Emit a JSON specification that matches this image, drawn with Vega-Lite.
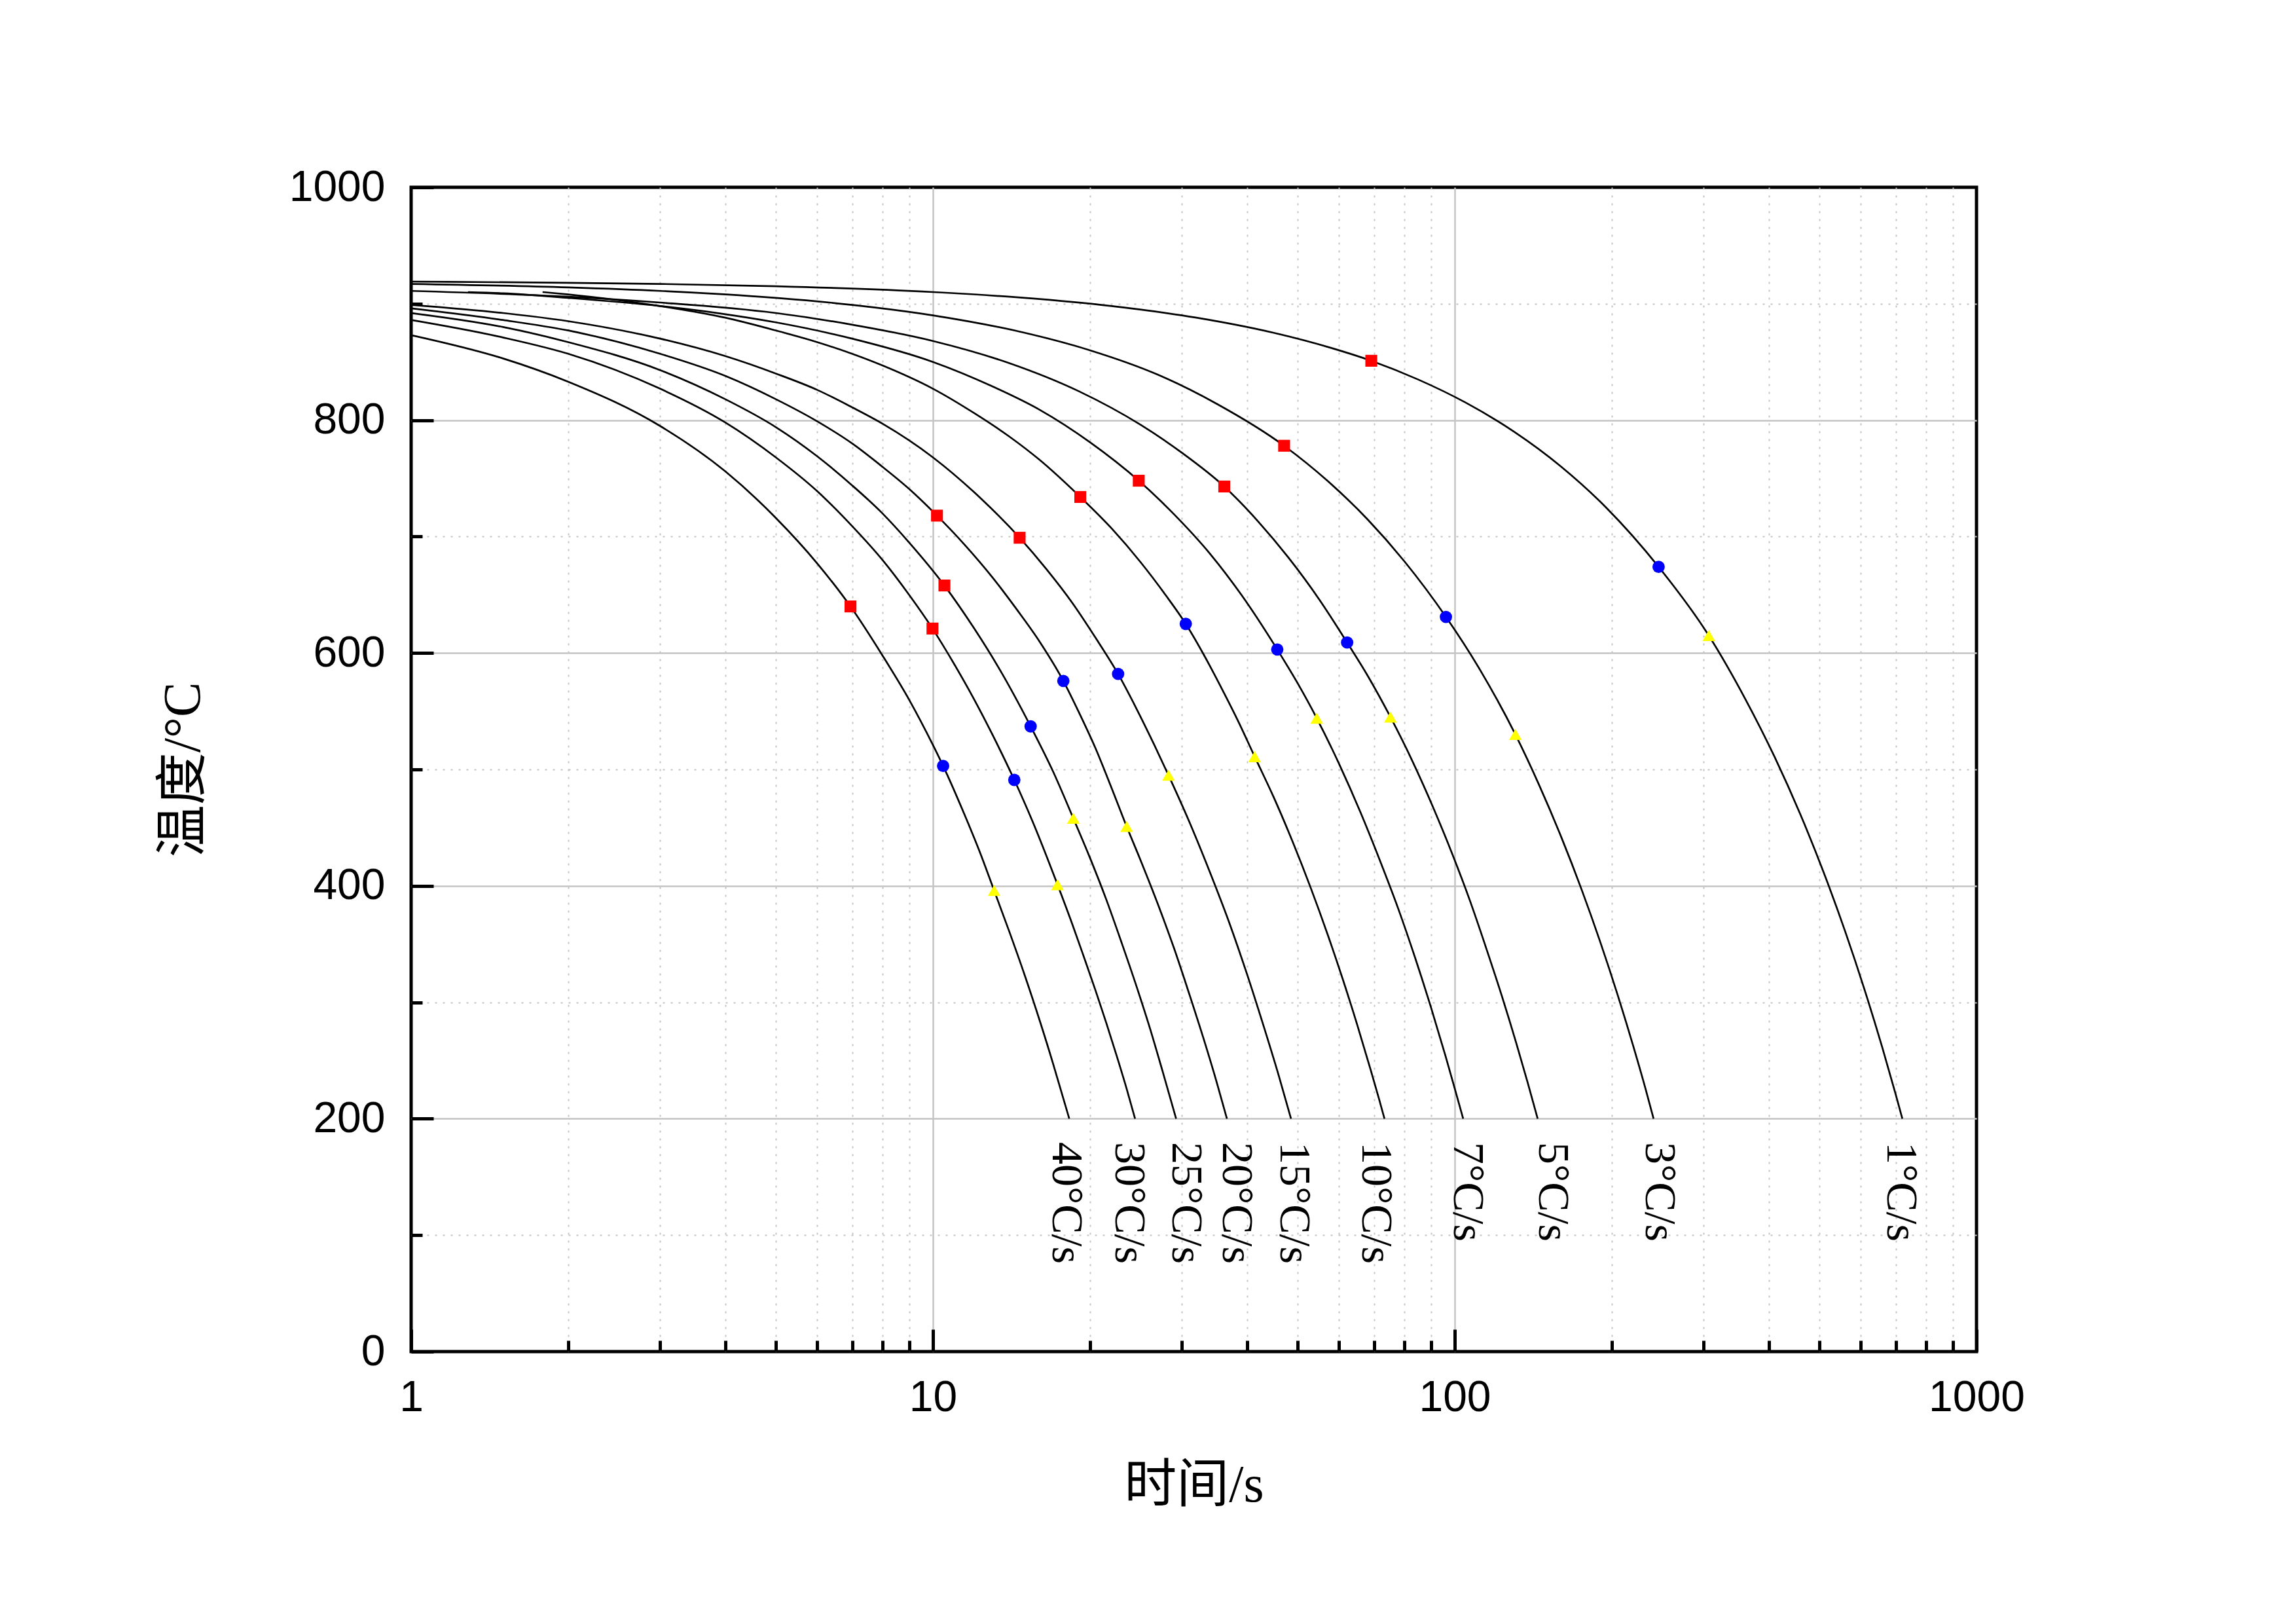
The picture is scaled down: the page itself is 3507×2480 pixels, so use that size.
{
  "$schema": "https://vega.github.io/schema/vega-lite/v6.json",
  "width": 2391,
  "height": 1778,
  "autosize": {"type": "none"},
  "padding": {"left": 628, "top": 286, "right": 488, "bottom": 416},
  "background": "white",
  "config": {
    "view": {"stroke": "black", "strokeWidth": 5}
  },
  "datasets": {
    "curves": [
      {"rate": "40", "t": 1, "T": 873}, {"rate": "40", "t": 1.5, "T": 853}, {"rate": "40", "t": 2, "T": 833}, {"rate": "40", "t": 3, "T": 795}, {"rate": "40", "t": 4, "T": 756}, {"rate": "40", "t": 5, "T": 716}, {"rate": "40", "t": 6, "T": 677}, {"rate": "40", "t": 6.95, "T": 640}, {"rate": "40", "t": 8, "T": 598}, {"rate": "40", "t": 9, "T": 560}, {"rate": "40", "t": 10, "T": 521}, {"rate": "40", "t": 10.46, "T": 503}, {"rate": "40", "t": 11.5, "T": 461}, {"rate": "40", "t": 12.3, "T": 429}, {"rate": "40", "t": 13.1, "T": 396}, {"rate": "40", "t": 14, "T": 361}, {"rate": "40", "t": 15, "T": 323}, {"rate": "40", "t": 16, "T": 285}, {"rate": "40", "t": 17, "T": 247}, {"rate": "40", "t": 17.6, "T": 224}, {"rate": "40", "t": 18.25, "T": 200},
      {"rate": "30", "t": 1, "T": 886}, {"rate": "30", "t": 1.5, "T": 871}, {"rate": "30", "t": 2, "T": 857}, {"rate": "30", "t": 3, "T": 827}, {"rate": "30", "t": 4, "T": 798}, {"rate": "30", "t": 5, "T": 768}, {"rate": "30", "t": 6, "T": 739}, {"rate": "30", "t": 7, "T": 709}, {"rate": "30", "t": 8, "T": 680}, {"rate": "30", "t": 9, "T": 650}, {"rate": "30", "t": 9.98, "T": 621}, {"rate": "30", "t": 11, "T": 590}, {"rate": "30", "t": 12, "T": 560}, {"rate": "30", "t": 13, "T": 530}, {"rate": "30", "t": 14.32, "T": 491}, {"rate": "30", "t": 15.5, "T": 456}, {"rate": "30", "t": 17.33, "T": 401}, {"rate": "30", "t": 18.5, "T": 367}, {"rate": "30", "t": 19.5, "T": 338}, {"rate": "30", "t": 20.5, "T": 310}, {"rate": "30", "t": 21.5, "T": 282}, {"rate": "30", "t": 22.5, "T": 254}, {"rate": "30", "t": 23.5, "T": 226}, {"rate": "30", "t": 24.4, "T": 200},
      {"rate": "25", "t": 1, "T": 892}, {"rate": "25", "t": 1.5, "T": 880}, {"rate": "25", "t": 2, "T": 867}, {"rate": "25", "t": 3, "T": 843}, {"rate": "25", "t": 4, "T": 818}, {"rate": "25", "t": 5, "T": 794}, {"rate": "25", "t": 6, "T": 769}, {"rate": "25", "t": 7, "T": 744}, {"rate": "25", "t": 8, "T": 720}, {"rate": "25", "t": 9, "T": 695}, {"rate": "25", "t": 10.52, "T": 658}, {"rate": "25", "t": 12, "T": 621}, {"rate": "25", "t": 13.5, "T": 584}, {"rate": "25", "t": 15.39, "T": 537}, {"rate": "25", "t": 17, "T": 498}, {"rate": "25", "t": 18.58, "T": 458}, {"rate": "25", "t": 20, "T": 424}, {"rate": "25", "t": 21.5, "T": 388}, {"rate": "25", "t": 23, "T": 351}, {"rate": "25", "t": 24.5, "T": 315}, {"rate": "25", "t": 26, "T": 279}, {"rate": "25", "t": 27.5, "T": 242}, {"rate": "25", "t": 29.25, "T": 200},
      {"rate": "20", "t": 1, "T": 896}, {"rate": "20", "t": 1.5, "T": 886}, {"rate": "20", "t": 2, "T": 877}, {"rate": "20", "t": 3, "T": 857}, {"rate": "20", "t": 4, "T": 838}, {"rate": "20", "t": 5, "T": 818}, {"rate": "20", "t": 6, "T": 799}, {"rate": "20", "t": 7, "T": 780}, {"rate": "20", "t": 8, "T": 760}, {"rate": "20", "t": 9, "T": 741}, {"rate": "20", "t": 10.18, "T": 718}, {"rate": "20", "t": 11.5, "T": 693}, {"rate": "20", "t": 13, "T": 665}, {"rate": "20", "t": 14.5, "T": 637}, {"rate": "20", "t": 16, "T": 610}, {"rate": "20", "t": 17.78, "T": 576}, {"rate": "20", "t": 19, "T": 550}, {"rate": "20", "t": 20.5, "T": 518}, {"rate": "20", "t": 22, "T": 484}, {"rate": "20", "t": 23.51, "T": 451}, {"rate": "20", "t": 25, "T": 422}, {"rate": "20", "t": 27, "T": 384}, {"rate": "20", "t": 29, "T": 346}, {"rate": "20", "t": 31, "T": 307}, {"rate": "20", "t": 33, "T": 269}, {"rate": "20", "t": 35, "T": 231}, {"rate": "20", "t": 36.6, "T": 200},
      {"rate": "15", "t": 1, "T": 899}, {"rate": "15", "t": 1.5, "T": 892}, {"rate": "15", "t": 2, "T": 885}, {"rate": "15", "t": 3, "T": 870}, {"rate": "15", "t": 4, "T": 855}, {"rate": "15", "t": 5, "T": 840}, {"rate": "15", "t": 6, "T": 826}, {"rate": "15", "t": 7, "T": 811}, {"rate": "15", "t": 8, "T": 797}, {"rate": "15", "t": 10, "T": 768}, {"rate": "15", "t": 12, "T": 738}, {"rate": "15", "t": 14.66, "T": 699}, {"rate": "15", "t": 16.5, "T": 672}, {"rate": "15", "t": 18.5, "T": 643}, {"rate": "15", "t": 20.5, "T": 613}, {"rate": "15", "t": 22.64, "T": 582}, {"rate": "15", "t": 24.5, "T": 553}, {"rate": "15", "t": 26.5, "T": 522}, {"rate": "15", "t": 28.28, "T": 495}, {"rate": "15", "t": 31, "T": 455}, {"rate": "15", "t": 34, "T": 411}, {"rate": "15", "t": 37, "T": 368}, {"rate": "15", "t": 40, "T": 324}, {"rate": "15", "t": 43, "T": 280}, {"rate": "15", "t": 46, "T": 237}, {"rate": "15", "t": 48.56, "T": 200},
      {"rate": "10", "t": 1.786, "T": 910}, {"rate": "10", "t": 2, "T": 908}, {"rate": "10", "t": 2.5, "T": 903}, {"rate": "10", "t": 3, "T": 898}, {"rate": "10", "t": 4, "T": 888}, {"rate": "10", "t": 5, "T": 877}, {"rate": "10", "t": 6, "T": 867}, {"rate": "10", "t": 7, "T": 857}, {"rate": "10", "t": 8, "T": 847}, {"rate": "10", "t": 10, "T": 827}, {"rate": "10", "t": 12, "T": 806}, {"rate": "10", "t": 14, "T": 786}, {"rate": "10", "t": 16, "T": 766}, {"rate": "10", "t": 19.16, "T": 734}, {"rate": "10", "t": 22, "T": 707}, {"rate": "10", "t": 25, "T": 678}, {"rate": "10", "t": 28, "T": 649}, {"rate": "10", "t": 30.52, "T": 625}, {"rate": "10", "t": 33, "T": 599}, {"rate": "10", "t": 36, "T": 567}, {"rate": "10", "t": 38.5, "T": 541}, {"rate": "10", "t": 41.36, "T": 511}, {"rate": "10", "t": 45, "T": 476}, {"rate": "10", "t": 49, "T": 437}, {"rate": "10", "t": 53, "T": 398}, {"rate": "10", "t": 57, "T": 359}, {"rate": "10", "t": 61, "T": 320}, {"rate": "10", "t": 65, "T": 281}, {"rate": "10", "t": 69, "T": 242}, {"rate": "10", "t": 71.5, "T": 218}, {"rate": "10", "t": 73.35, "T": 200},
      {"rate": "7", "t": 1.285, "T": 910}, {"rate": "7", "t": 1.5, "T": 909}, {"rate": "7", "t": 2, "T": 905}, {"rate": "7", "t": 3, "T": 898}, {"rate": "7", "t": 4, "T": 891}, {"rate": "7", "t": 5, "T": 884}, {"rate": "7", "t": 7, "T": 870}, {"rate": "7", "t": 10, "T": 850}, {"rate": "7", "t": 13, "T": 829}, {"rate": "7", "t": 16, "T": 809}, {"rate": "7", "t": 20, "T": 781}, {"rate": "7", "t": 24.8, "T": 748}, {"rate": "7", "t": 29, "T": 719}, {"rate": "7", "t": 34, "T": 685}, {"rate": "7", "t": 39, "T": 650}, {"rate": "7", "t": 45.7, "T": 603}, {"rate": "7", "t": 50, "T": 574}, {"rate": "7", "t": 54.4, "T": 544}, {"rate": "7", "t": 60, "T": 505}, {"rate": "7", "t": 66, "T": 463}, {"rate": "7", "t": 72, "T": 421}, {"rate": "7", "t": 78, "T": 380}, {"rate": "7", "t": 84, "T": 338}, {"rate": "7", "t": 90, "T": 296}, {"rate": "7", "t": 96, "T": 254}, {"rate": "7", "t": 100, "T": 226}, {"rate": "7", "t": 103.8, "T": 200},
      {"rate": "5", "t": 1, "T": 911}, {"rate": "5", "t": 2, "T": 906}, {"rate": "5", "t": 3, "T": 901}, {"rate": "5", "t": 5, "T": 892}, {"rate": "5", "t": 7, "T": 882}, {"rate": "5", "t": 10, "T": 868}, {"rate": "5", "t": 14, "T": 849}, {"rate": "5", "t": 19, "T": 825}, {"rate": "5", "t": 25, "T": 796}, {"rate": "5", "t": 30, "T": 772}, {"rate": "5", "t": 36.17, "T": 743}, {"rate": "5", "t": 42, "T": 713}, {"rate": "5", "t": 48, "T": 682}, {"rate": "5", "t": 55, "T": 646}, {"rate": "5", "t": 62.2, "T": 609}, {"rate": "5", "t": 68, "T": 581}, {"rate": "5", "t": 75.3, "T": 545}, {"rate": "5", "t": 83, "T": 507}, {"rate": "5", "t": 91, "T": 467}, {"rate": "5", "t": 99, "T": 427}, {"rate": "5", "t": 107, "T": 387}, {"rate": "5", "t": 115, "T": 346}, {"rate": "5", "t": 123, "T": 306}, {"rate": "5", "t": 131, "T": 266}, {"rate": "5", "t": 138, "T": 231}, {"rate": "5", "t": 144.2, "T": 200},
      {"rate": "3", "t": 1, "T": 917}, {"rate": "3", "t": 2, "T": 914}, {"rate": "3", "t": 3, "T": 911}, {"rate": "3", "t": 5, "T": 905}, {"rate": "3", "t": 7, "T": 899}, {"rate": "3", "t": 10, "T": 890}, {"rate": "3", "t": 15, "T": 875}, {"rate": "3", "t": 20, "T": 860}, {"rate": "3", "t": 27, "T": 839}, {"rate": "3", "t": 35, "T": 814}, {"rate": "3", "t": 47.1, "T": 778}, {"rate": "3", "t": 57, "T": 748}, {"rate": "3", "t": 68, "T": 715}, {"rate": "3", "t": 80, "T": 679}, {"rate": "3", "t": 96.2, "T": 631}, {"rate": "3", "t": 112, "T": 585}, {"rate": "3", "t": 130.7, "T": 530}, {"rate": "3", "t": 145, "T": 487}, {"rate": "3", "t": 160, "T": 442}, {"rate": "3", "t": 175, "T": 397}, {"rate": "3", "t": 190, "T": 352}, {"rate": "3", "t": 205, "T": 307}, {"rate": "3", "t": 220, "T": 262}, {"rate": "3", "t": 232, "T": 226}, {"rate": "3", "t": 240.5, "T": 200},
      {"rate": "1", "t": 1, "T": 919}, {"rate": "1", "t": 2, "T": 918}, {"rate": "1", "t": 3, "T": 917}, {"rate": "1", "t": 5, "T": 915}, {"rate": "1", "t": 10, "T": 910}, {"rate": "1", "t": 15, "T": 905}, {"rate": "1", "t": 22, "T": 898}, {"rate": "1", "t": 32, "T": 888}, {"rate": "1", "t": 45, "T": 875}, {"rate": "1", "t": 58, "T": 862}, {"rate": "1", "t": 69.2, "T": 851}, {"rate": "1", "t": 85, "T": 835}, {"rate": "1", "t": 105, "T": 815}, {"rate": "1", "t": 130, "T": 790}, {"rate": "1", "t": 160, "T": 760}, {"rate": "1", "t": 195, "T": 725}, {"rate": "1", "t": 245.9, "T": 674}, {"rate": "1", "t": 306.8, "T": 615}, {"rate": "1", "t": 360, "T": 561}, {"rate": "1", "t": 410, "T": 511}, {"rate": "1", "t": 460, "T": 461}, {"rate": "1", "t": 510, "T": 411}, {"rate": "1", "t": 560, "T": 361}, {"rate": "1", "t": 610, "T": 311}, {"rate": "1", "t": 660, "T": 261}, {"rate": "1", "t": 700, "T": 221}, {"rate": "1", "t": 720.9, "T": 200}
    ],
    "markers": [
      {"rate": "40", "point": "P1", "t": 6.95, "T": 640}, {"rate": "30", "point": "P1", "t": 9.98, "T": 621}, {"rate": "25", "point": "P1", "t": 10.52, "T": 658}, {"rate": "20", "point": "P1", "t": 10.18, "T": 718}, {"rate": "15", "point": "P1", "t": 14.66, "T": 699}, {"rate": "10", "point": "P1", "t": 19.16, "T": 734}, {"rate": "7", "point": "P1", "t": 24.8, "T": 748}, {"rate": "5", "point": "P1", "t": 36.17, "T": 743}, {"rate": "3", "point": "P1", "t": 47.1, "T": 778}, {"rate": "1", "point": "P1", "t": 69.2, "T": 851},
      {"rate": "40", "point": "P2", "t": 10.46, "T": 503}, {"rate": "30", "point": "P2", "t": 14.32, "T": 491}, {"rate": "25", "point": "P2", "t": 15.39, "T": 537}, {"rate": "20", "point": "P2", "t": 17.78, "T": 576}, {"rate": "15", "point": "P2", "t": 22.64, "T": 582}, {"rate": "10", "point": "P2", "t": 30.52, "T": 625}, {"rate": "7", "point": "P2", "t": 45.7, "T": 603}, {"rate": "5", "point": "P2", "t": 62.2, "T": 609}, {"rate": "3", "point": "P2", "t": 96.2, "T": 631}, {"rate": "1", "point": "P2", "t": 245.9, "T": 674},
      {"rate": "40", "point": "P3", "t": 13.1, "T": 396}, {"rate": "30", "point": "P3", "t": 17.33, "T": 401}, {"rate": "25", "point": "P3", "t": 18.58, "T": 458}, {"rate": "20", "point": "P3", "t": 23.51, "T": 451}, {"rate": "15", "point": "P3", "t": 28.28, "T": 495}, {"rate": "10", "point": "P3", "t": 41.36, "T": 511}, {"rate": "7", "point": "P3", "t": 54.4, "T": 544}, {"rate": "5", "point": "P3", "t": 75.3, "T": 545}, {"rate": "3", "point": "P3", "t": 130.7, "T": 530}, {"rate": "1", "point": "P3", "t": 306.8, "T": 615}
    ],
    "labels": [
      {"label": "40°C/s", "t": 17.96}, {"label": "30°C/s", "t": 23.69}, {"label": "25°C/s", "t": 30.52}, {"label": "20°C/s", "t": 38.05}, {"label": "15°C/s", "t": 49.13}, {"label": "10°C/s", "t": 70.48}, {"label": "7°C/s", "t": 105.7}, {"label": "5°C/s", "t": 153.9}, {"label": "3°C/s", "t": 246.3}, {"label": "1°C/s", "t": 715.5}
    ]
  },
  "layer": [
    {
      "data": {"name": "curves"},
      "mark": {"type": "line", "color": "black", "strokeWidth": 2.7, "interpolate": "monotone", "clip": true},
      "encoding": {
        "x": {
          "field": "t", "type": "quantitative",
          "scale": {"type": "log", "domain": [1, 1000], "nice": false},
          "axis": {
            "values": [1, 2, 3, 4, 5, 6, 7, 8, 9, 10, 20, 30, 40, 50, 60, 70, 80, 90, 100, 200, 300, 400, 500, 600, 700, 800, 900, 1000],
            "labelExpr": "(datum.value == 1 || datum.value == 10 || datum.value == 100 || datum.value == 1000) ? format(datum.value, 'd') : ''",
            "title": "时间/s",
            "domain": false,
            "grid": true,
            "gridColor": "#c4c4c4",
            "gridDash": {"condition": {"test": "datum.value == 10 || datum.value == 100", "value": []}, "value": [3, 9]},
            "gridWidth": {"condition": {"test": "datum.value == 10 || datum.value == 100", "value": 2.5}, "value": 2},
            "gridOpacity": {"condition": {"test": "datum.value == 1 || datum.value == 1000", "value": 0}, "value": 1},
            "ticks": true,
            "tickColor": "black",
            "tickWidth": 5,
            "tickSize": {"condition": {"test": "datum.value == 1 || datum.value == 10 || datum.value == 100 || datum.value == 1000", "value": -34}, "value": -17},
            "labelPadding": 72,
            "labelFont": "Liberation Sans",
            "labelFontSize": 66,
            "labelColor": "black",
            "labelFlush": false,
            "labelOverlap": false,
            "labelBound": false,
            "titleFont": "Liberation Serif, Noto Sans CJK SC",
            "titleFontSize": 80,
            "titleFontWeight": "normal",
            "titleColor": "black",
            "titlePadding": 45
          }
        },
        "y": {
          "field": "T", "type": "quantitative",
          "scale": {"domain": [0, 1000], "nice": false, "zero": false},
          "axis": {
            "values": [0, 100, 200, 300, 400, 500, 600, 700, 800, 900, 1000],
            "labelExpr": "datum.value % 200 == 0 ? format(datum.value, 'd') : ''",
            "title": "温度/°C",
            "domain": false,
            "grid": true,
            "gridColor": "#c4c4c4",
            "gridDash": {"condition": {"test": "datum.value % 200 == 0", "value": []}, "value": [3, 9]},
            "gridWidth": {"condition": {"test": "datum.value % 200 == 0", "value": 2.5}, "value": 2},
            "gridOpacity": {"condition": {"test": "datum.value == 0 || datum.value == 1000", "value": 0}, "value": 1},
            "ticks": true,
            "tickColor": "black",
            "tickWidth": 5,
            "tickSize": {"condition": {"test": "datum.value % 200 == 0", "value": -34}, "value": -17},
            "labelPadding": 74,
            "labelFont": "Liberation Sans",
            "labelFontSize": 66,
            "labelColor": "black",
            "labelFlush": false,
            "labelOverlap": false,
            "labelBound": false,
            "titleFont": "Liberation Serif, Noto Sans CJK SC",
            "titleFontSize": 80,
            "titleFontWeight": "normal",
            "titleColor": "black",
            "titlePadding": 120
          }
        },
        "detail": {"field": "rate", "type": "nominal"}
      }
    },
    {
      "data": {"name": "markers"},
      "mark": {"type": "point", "filled": true, "opacity": 1, "strokeWidth": 0},
      "encoding": {
        "x": {"field": "t", "type": "quantitative"},
        "y": {"field": "T", "type": "quantitative"},
        "shape": {"field": "point", "type": "nominal", "scale": {"domain": ["P1", "P2", "P3"], "range": ["square", "circle", "triangle-up"]}, "legend": null},
        "color": {"field": "point", "type": "nominal", "scale": {"domain": ["P1", "P2", "P3"], "range": ["#ff0000", "#0000ff", "#ffff00"]}, "legend": null},
        "size": {"field": "point", "type": "nominal", "scale": {"domain": ["P1", "P2", "P3"], "range": [330, 380, 680]}, "legend": null}
      }
    },
    {
      "data": {"name": "labels"},
      "mark": {"type": "text", "angle": 90, "align": "left", "baseline": "middle", "font": "Liberation Serif", "fontSize": 68, "color": "black"},
      "encoding": {
        "x": {"field": "t", "type": "quantitative"},
        "y": {"datum": 180, "type": "quantitative"},
        "text": {"field": "label", "type": "nominal"}
      }
    }
  ]
}
